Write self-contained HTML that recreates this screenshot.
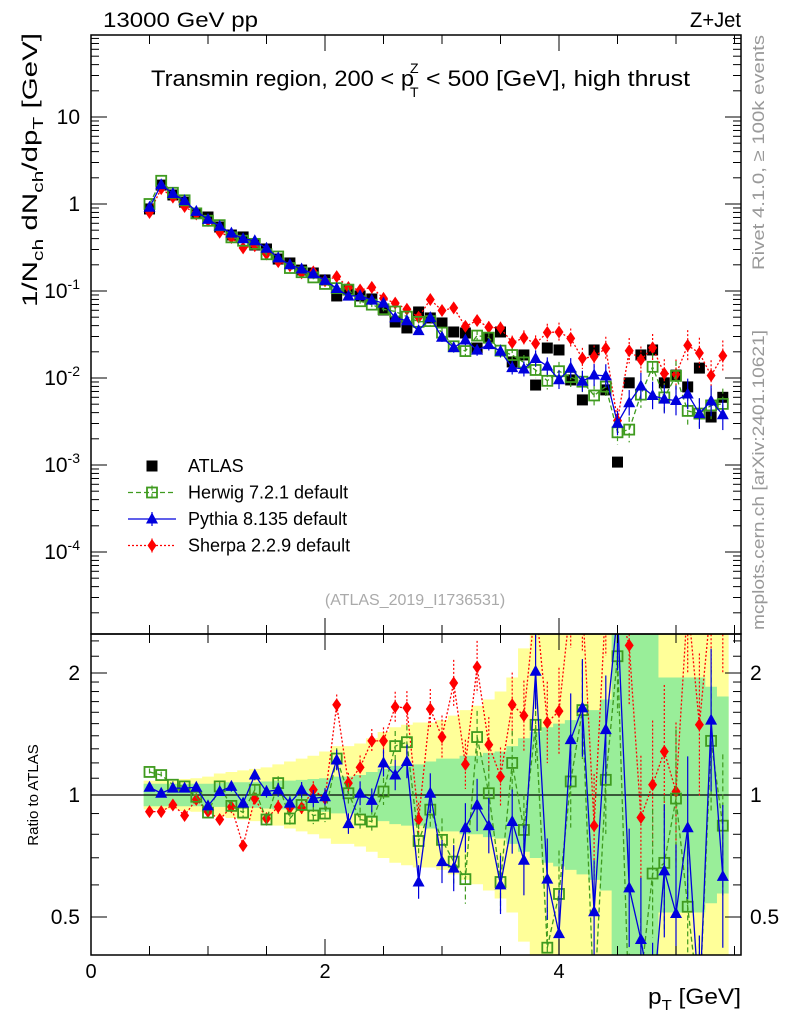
<!DOCTYPE html>
<html><head><meta charset="utf-8"><style>
html,body{margin:0;padding:0;background:#fff;width:786px;height:1024px;overflow:hidden;}
svg{display:block;font-family:"Liberation Sans",sans-serif;}
</style></head><body>
<svg id="c" width="786" height="1024" viewBox="0 0 786 1024">
<defs>
<clipPath id="cm"><rect x="91" y="35" width="650" height="599"/></clipPath>
<clipPath id="cr"><rect x="91" y="634" width="650" height="321"/></clipPath>
</defs>
<g id="bands" clip-path="url(#cr)"></g>
<g id="main" clip-path="url(#cm)"></g>
<g id="ratio" clip-path="url(#cr)"></g>
<g id="axes"></g>
<text x="103" y="27" font-size="21" textLength="155" lengthAdjust="spacingAndGlyphs">13000 GeV pp</text>
<text x="690" y="27" font-size="21" textLength="51" lengthAdjust="spacingAndGlyphs">Z+Jet</text>
<g>
<text x="151" y="86" font-size="22" textLength="263" lengthAdjust="spacingAndGlyphs">Transmin region, 200 &lt; p</text>
<text x="410" y="73" font-size="14">Z</text>
<text x="410" y="97" font-size="14">T</text>
<text x="426" y="86" font-size="22" textLength="264" lengthAdjust="spacingAndGlyphs">&lt; 500 [GeV], high thrust</text>
</g>
<text transform="translate(37,307) rotate(-90)" font-size="21" textLength="274" lengthAdjust="spacingAndGlyphs">1/N<tspan font-size="15" dy="6">ch</tspan><tspan dy="-6"> dN</tspan><tspan font-size="15" dy="6">ch</tspan><tspan dy="-6">/dp</tspan><tspan font-size="15" dy="6">T</tspan><tspan dy="-6"> [GeV]</tspan></text>
<text transform="translate(38,795) rotate(-90)" font-size="15" text-anchor="middle">Ratio to ATLAS</text>
<text x="648" y="1004" font-size="22" textLength="93" lengthAdjust="spacingAndGlyphs">p<tspan font-size="15" dy="6">T</tspan><tspan dy="-6"> [GeV]</tspan></text>
<text transform="translate(764,270) rotate(-90)" font-size="17" fill="#999" textLength="235" lengthAdjust="spacingAndGlyphs">Rivet 4.1.0, ≥ 100k events</text>
<text transform="translate(764,630) rotate(-90)" font-size="17" fill="#999" textLength="300" lengthAdjust="spacingAndGlyphs">mcplots.cern.ch [arXiv:2401.10621]</text>
<text x="415" y="605" font-size="16" fill="#aaa" text-anchor="middle">(ATLAS_2019_I1736531)</text>
<g id="legend"></g>
</svg>
<script>
const xs = [0.5,0.6,0.7,0.8,0.9,1.0,1.1,1.2,1.3,1.4,1.5,1.6,1.7,1.8,1.9,2.0,2.1,2.2,2.3,2.4,2.5,2.6,2.7,2.8,2.9,3.0,3.1,3.2,3.3,3.4,3.5,3.6,3.7,3.8,3.9,4.0,4.1,4.2,4.3,4.4,4.5,4.6,4.7,4.8,4.9,5.0,5.1,5.2,5.3,5.4];
const atlas = [0.877,1.65,1.27,1.05,0.788,0.709,0.544,0.44,0.418,0.338,0.304,0.233,0.21,0.174,0.161,0.134,0.0877,0.1026,0.0877,0.081,0.0605,0.044,0.0376,0.0574,0.049,0.0429,0.0338,0.0329,0.0221,0.0288,0.0338,0.0153,0.0184,0.0083,0.0221,0.021,0.0095,0.0056,0.021,0.0073,0.00108,0.0088,0.0184,0.021,0.0088,0.0108,0.0079,0.013,0.00356,0.006];
const herwigRatio = [1.14,1.12,1.06,1.05,0.99,0.905,1.05,0.94,0.905,1.03,0.87,1.07,0.875,0.945,0.89,0.90,1.23,1.01,0.87,0.86,1.02,1.32,1.35,0.77,0.92,0.775,0.685,0.62,1.39,1.01,0.61,1.20,0.82,1.49,0.42,0.57,1.08,1.62,0.3,1.09,2.2,0.29,0.35,0.64,0.68,0.98,0.53,0.3,1.36,0.84];
const pythiaRatio = [1.045,1.01,1.04,1.04,1.045,0.94,1.02,1.05,0.955,1.12,1.02,1.03,0.955,1.03,0.98,0.99,1.22,0.85,1.01,0.97,1.20,1.12,1.21,0.61,1.01,0.685,0.66,0.83,0.945,0.84,0.60,0.86,0.69,2.02,0.62,0.455,1.37,1.64,0.515,1.45,2.8,0.59,0.44,0.3,0.65,0.51,0.83,0.3,1.53,0.63];
const sherpaRatio = [0.91,0.91,0.945,0.89,0.975,0.91,0.87,0.935,0.75,0.98,0.875,0.935,0.93,0.93,1.03,0.98,1.67,1.07,1.17,1.36,1.36,1.65,1.64,0.87,1.63,1.39,1.89,1.19,2.07,1.33,1.11,1.67,1.57,3.0,1.51,1.61,3.0,3.0,0.84,3.0,3.0,2.34,0.88,1.06,1.28,1.02,3.0,1.49,3.0,3.0];
const statErr = [0.066,0.066,0.066,0.066,0.066,0.066,0.07,0.075,0.075,0.075,0.08,0.085,0.085,0.09,0.095,0.1,0.11,0.11,0.12,0.14,0.16,0.18,0.19,0.19,0.21,0.23,0.23,0.25,0.25,0.27,0.28,0.32,0.38,0.43,0.47,0.5,0.53,0.57,0.62,0.72,1.5,1.5,1.5,1.5,0.95,0.95,0.95,0.95,0.85,0.75];
const totErr = [0.085,0.085,0.085,0.095,0.1,0.11,0.13,0.14,0.15,0.16,0.17,0.19,0.21,0.23,0.25,0.28,0.32,0.32,0.34,0.38,0.43,0.47,0.49,0.51,0.51,0.53,0.57,0.62,0.66,0.72,0.8,0.95,1.3,1.5,1.5,1.5,1.5,1.5,1.5,1.5,1.5,1.5,1.5,1.5,1.5,1.5,1.5,1.5,1.5,1.5];
const mcErr = [0.02,0.02,0.02,0.02,0.02,0.02,0.025,0.03,0.03,0.03,0.035,0.04,0.04,0.045,0.05,0.05,0.06,0.06,0.07,0.07,0.08,0.09,0.1,0.1,0.12,0.13,0.14,0.15,0.16,0.17,0.18,0.2,0.22,0.24,0.26,0.28,0.3,0.32,0.34,0.36,0.38,0.4,0.42,0.44,0.46,0.48,0.5,0.5,0.5,0.5];
const xTickLabels = [0,2,4];
const mainTickValues = [10,1,0.1,0.01,0.001,0.0001];
const mainTickBase = ["10","1","10","10","10","10"];
const mainTickExp = ["","","-1","-2","-3","-4"];
const ratioTickValues = [2,1,0.5];
const ratioTickText = ["2","1","0.5"];

const NS="http://www.w3.org/2000/svg";
const X=v=>91+v*117;
const Ym=v=>204-87*Math.log10(v);
const Yr=r=>795-122*Math.log2(r);
function mk(tag,attrs,parent){const e=document.createElementNS(NS,tag);for(const k in attrs)e.setAttribute(k,attrs[k]);parent.appendChild(e);return e;}
const gm=document.getElementById('main'),gr=document.getElementById('ratio'),gb=document.getElementById('bands'),ga=document.getElementById('axes'),gl=document.getElementById('legend');

function band(err,color,name){
  let up="",lo="";
  xs.forEach((x,i)=>{const a=X(x-0.05),b=X(x+0.05);const u=Yr(1+err[i]),l=Yr(1/(1+err[i]));
    up+=(i?'L':'M')+a+','+u+'L'+b+','+u;lo='L'+b+','+l+'L'+a+','+l+lo;});
  const p=mk('path',{d:up+lo+'Z',fill:color},gb);
  
  
}
band(totErr,'#ffff99','total-uncertainty-band');
band(statErr,'#99ee99','stat-uncertainty-band');

function marker(type,x,y,color,parent){
  let e;
  if(type==='sq') e=mk('rect',{x:x-5.5,y:y-5.5,width:11,height:11,fill:'#000'},parent);
  if(type==='osq') e=mk('rect',{x:x-5,y:y-5,width:10,height:10,fill:'none',stroke:color,'stroke-width':1.8},parent);
  if(type==='tri') e=mk('path',{d:'M'+x+','+(y-6.5)+'L'+(x+6)+','+(y+4.5)+'L'+(x-6)+','+(y+4.5)+'Z',fill:color},parent);
  if(type==='dia') e=mk('path',{d:'M'+x+','+(y-6.5)+'L'+(x+4.5)+','+y+'L'+x+','+(y+6.5)+'L'+(x-4.5)+','+y+'Z',fill:color},parent);
  return e;
}
function series(vals,fy,type,color,dash,name,parent,err){
  const pts=xs.map((x,i)=>[X(x),fy(vals[i])]);
  const l=mk('polyline',{points:pts.map(p=>p.join(',')).join(' '),fill:'none',stroke:color,'stroke-width':1.3,'stroke-dasharray':dash},parent);
  
  
  xs.forEach((x,i)=>{
    if(err){const v=vals[i],e=err[i];
      const b=mk('line',{x1:X(x),x2:X(x),y1:fy(v*(1+e)),y2:fy(v/(1+e)),stroke:color,'stroke-width':1.2,'stroke-dasharray':dash},parent);
      
      }
    const m=marker(type,X(x),fy(vals[i]),color,parent);
    
    
  });
}
const herwig=atlas.map((a,i)=>a*herwigRatio[i]);
const pythia=atlas.map((a,i)=>a*pythiaRatio[i]);
const sherpa=atlas.map((a,i)=>a*sherpaRatio[i]);
xs.forEach((x,i)=>{const m=marker('sq',X(x),Ym(atlas[i]),'#000',gm);
  
  });
series(sherpa,Ym,'dia','#ff0000','2,2','sherpa',gm,mcErr);
series(herwig,Ym,'osq','#3f9b1f','5,3','herwig',gm,mcErr);
series(pythia,Ym,'tri','#0000dd','','pythia',gm,mcErr);
const one=mk('line',{x1:91,x2:741,y1:Yr(1),y2:Yr(1),stroke:'#000','stroke-width':1.3},gr);


series(sherpaRatio,Yr,'dia','#ff0000','2,2','sherpa-ratio',gr,mcErr);
series(herwigRatio,Yr,'osq','#3f9b1f','5,3','herwig-ratio',gr,mcErr);
series(pythiaRatio,Yr,'tri','#0000dd','','pythia-ratio',gr,mcErr);

[[35,599],[634,321]].forEach(([y,h],k)=>{const r=mk('rect',{x:91,y:y,width:650,height:h,fill:'none',stroke:'#000','stroke-width':1.5},ga);
  
  });
for(let v=0;v<=5.5;v+=0.5){const x=X(v);const L=(v%2===0)?16:9;
  [[35,1],[634,-1],[634,1],[955,-1]].forEach(([y,d])=>mk('line',{x1:x,x2:x,y1:y,y2:y+d*L,stroke:'#000'},ga));}
xTickLabels.forEach(v=>{const t=mk('text',{x:X(v),y:978,'font-size':20,'text-anchor':'middle'},ga);t.textContent=v;
  
  });
for(let d=-5;d<=1;d++){for(let m=1;m<10;m++){const v=m*Math.pow(10,d);const y=Ym(v);if(y<35||y>634)continue;const L=m===1?16:8;
  mk('line',{x1:91,x2:91+L,y1:y,y2:y,stroke:'#000'},ga);mk('line',{x1:741,x2:741-L,y1:y,y2:y,stroke:'#000'},ga);}}
mainTickValues.forEach((v,i)=>{const t=mk('text',{x:80,y:Ym(v)+7,'font-size':21,'text-anchor':'end'},ga);
  t.textContent=mainTickBase[i];
  if(mainTickExp[i]){const ts=mk('tspan',{'font-size':14,dy:-9},t);ts.textContent=mainTickExp[i];}
  
  });
[0.4,0.5,0.6,0.7,0.8,0.9,1,1.1,1.2,1.3,1.4,1.5,1.6,1.7,1.8,1.9,2,2.2,2.4].forEach(v=>{const y=Yr(v);if(y<634||y>955)return;const L=[0.5,1,2].includes(v)?16:8;
  mk('line',{x1:91,x2:91+L,y1:y,y2:y,stroke:'#000'},ga);mk('line',{x1:741,x2:741-L,y1:y,y2:y,stroke:'#000'},ga);});
ratioTickValues.forEach((v,i)=>{[[80,'end'],[750,'start']].forEach(([x,a])=>{const t=mk('text',{x:x,y:Yr(v)+7,'font-size':21,'text-anchor':a},ga);t.textContent=ratioTickText[i];
  
  });});
const leg=[['sq','#000','','ATLAS'],['osq','#3f9b1f','5,3','Herwig 7.2.1 default'],['tri','#0000dd','','Pythia 8.135 default'],['dia','#ff0000','2,2','Sherpa 2.2.9 default']];
leg.forEach(([t,c,d,s],i)=>{const y=466+i*26.5;
  if(i>0){mk('line',{x1:128,x2:176,y1:y,y2:y,stroke:c,'stroke-width':1.3,'stroke-dasharray':d},gl);mk('line',{x1:152,x2:152,y1:y-7,y2:y+7,stroke:c,'stroke-width':1.2,'stroke-dasharray':d},gl);}
  const m=marker(t,152,y,c,gl);
  
  
  const tx=mk('text',{x:188,y:y+6,'font-size':18},gl);tx.textContent=s;
  
  });
</script>
</body></html>
